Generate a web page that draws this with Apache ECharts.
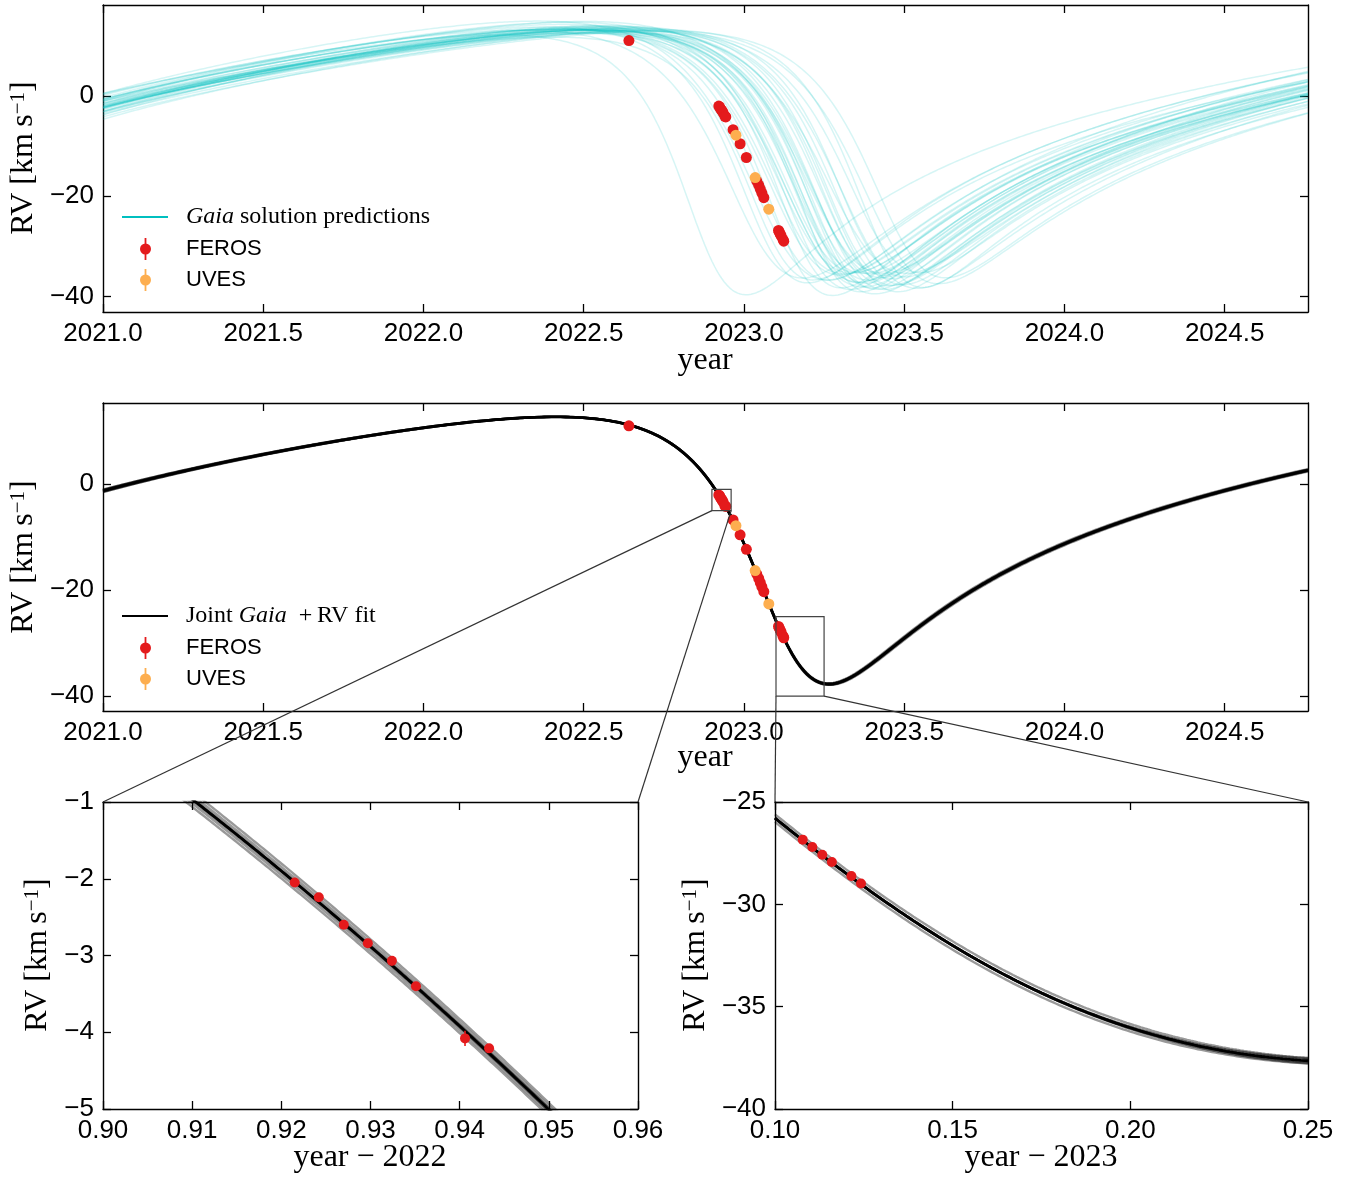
<!DOCTYPE html>
<html>
<head>
<meta charset="utf-8">
<script src="https://cdn.jsdelivr.net/npm/echarts@6/dist/echarts.min.js"></script>
<style>
  html, body { margin: 0; padding: 0; background: #fff; }
  #chart { width: 1355px; height: 1177px; }
</style>
</head>
<body>
<div id="chart"></div>
<script>
// ---- radial-velocity measurements ----
const ferosT  = [2022.641, 2022.9215, 2022.9242, 2022.9270, 2022.9297, 2022.9324, 2022.9351, 2022.9406, 2022.9433,
                 2022.966, 2022.988, 2023.0075, 2023.040, 2023.046, 2023.051, 2023.056, 2023.062,
                 2023.1078, 2023.1105, 2023.1133, 2023.1160, 2023.1215, 2023.1242];
const ferosRV = [11.0, -2.05, -2.24, -2.60, -2.84, -3.07, -3.40, -4.08, -4.21,
                 -6.75, -9.56, -12.3, -17.0, -17.8, -18.6, -19.4, -20.3,
                 -26.84, -27.20, -27.58, -27.93, -28.62, -28.98];
const ferosErr = [0.08, 0.05, 0.05, 0.05, 0.05, 0.06, 0.05, 0.10, 0.05,
                  0.06, 0.06, 0.06, 0.06, 0.06, 0.06, 0.06, 0.06,
                  0.05, 0.05, 0.05, 0.05, 0.05, 0.05];
const uvesT   = [2022.975, 2023.035, 2023.0775];
const uvesRV  = [-7.85, -16.3, -22.6];
const uvesErr = [0.10, 0.10, 0.10];

// ---- best joint orbit: period [yr], eccentricity, omega [rad], periastron [yr], K and systemic velocity [km/s] ----
const fitP = 3.49654, fitE = 0.51798, fitW = 2.29062, fitTp = 2023.12509, fitK = 25.20326, fitG = -3.91391;

// ---- Gaia solution draws: periastron shift, amplitude, systemic velocity and eccentricity offsets ----
const gaiaShift = [-0.24, -0.09, -0.06, -0.04, -0.02, 0.00, 0.02, 0.03, 0.05, 0.06, 0.07, 0.08, 0.09, 0.10, 0.10, 0.11, 0.12, 0.13, 0.13, 0.14,
                   0.15, 0.15, 0.16, 0.17, 0.18, 0.19, 0.20, 0.21, 0.22, 0.23, 0.24, 0.26, 0.28, 0.30, 0.33, 0.36, 0.08, 0.12, 0.17, 0.04];
const gaiaDK = [0.7, -0.5, 0.3, -1.0, 0.6, -0.2, 1.0, -0.7, 0.2, -0.4, 0.9, -1.1, 0.5, 0.0, -0.6, 0.7, -0.3, 1.2, -0.9, 0.4,
                -0.1, 0.8, -0.5, 0.3, -1.0, 0.6, -0.2, 1.0, -0.7, 0.2, -0.4, 0.9, -1.1, 0.5, 0.0, -0.6, 0.7, -0.3, 1.1, -0.8];
const gaiaDG = [-0.5, 0.4, 1.0, 0.0, 1.3, 0.7, -0.4, 0.9, 0.2, 1.5, 0.5, 1.1, -0.2, 0.8, 1.4, 0.1, 0.6, -0.5, 1.2, 0.3,
                1.7, 0.4, 0.8, -0.1, 1.1, 0.6, 1.3, 0.0, 0.9, 0.5, 1.4, 0.2, 1.0, 0.7, 0.1, 0.8, 1.2, 0.3, 0.6, 1.0];
const gaiaDE = [0.03, -0.02, 0.01, 0.02, -0.03, 0.0, 0.02, -0.01, 0.03, -0.02, 0.01, 0.0, -0.03, 0.02, -0.01, 0.03, 0.0, -0.02, 0.01, 0.02,
                -0.03, 0.01, 0.0, -0.02, 0.03, -0.01, 0.02, 0.0, -0.03, 0.01, 0.02, -0.02, 0.0, 0.03, -0.01, 0.01, -0.02, 0.02, 0.0, -0.01];

// ---- joint-fit posterior draws (offsets around the best orbit) ----
const drawDP  = [0.03, -0.03, 0.015, -0.015, 0.02, -0.02, 0.01, -0.01];
const drawDTp = [0.0012, -0.0012, 0.0006, -0.0006, 0.0008, -0.0008, 0.0004, -0.0004];
const drawDK  = [0.08, -0.08, 0.05, -0.05, -0.06, 0.06, 0.03, -0.03];
const drawDG  = [-0.05, 0.05, -0.03, 0.03, 0.04, -0.04, 0.0, 0.0];

// ---- axis ticks and zoom windows ----
const yearTicks = [2021.0, 2021.5, 2022.0, 2022.5, 2023.0, 2023.5, 2024.0, 2024.5];
const rvTicks = [-40, -20, 0];
const zoomAX = [0.90, 0.91, 0.92, 0.93, 0.94, 0.95, 0.96];
const zoomAY = [-5, -4, -3, -2, -1];
const zoomBX = [0.10, 0.15, 0.20, 0.25];
const zoomBY = [-40, -35, -30, -25];
const zoomA = { x0: 0.90, x1: 0.96, y0: -5, y1: -1, ref: 2022 };
const zoomB = { x0: 0.10, x1: 0.25, y0: -40, y1: -25, ref: 2023 };

// ---- Keplerian radial velocity ----
function keplerE(M, e) {
  let E = M + 0.85 * e * Math.sign(Math.sin(M) || 1);
  for (let i = 0; i < 50; i++) {
    const d = (E - e * Math.sin(E) - M) / (1 - e * Math.cos(E));
    E -= d;
    if (Math.abs(d) < 1e-12) break;
  }
  return E;
}
function rv(t, o) {
  let M = 2 * Math.PI * (t - o.Tp) / o.P;
  M = M - 2 * Math.PI * Math.round(M / (2 * Math.PI));
  const E = keplerE(M, o.e);
  const nu = 2 * Math.atan2(Math.sqrt(1 + o.e) * Math.sin(E / 2), Math.sqrt(1 - o.e) * Math.cos(E / 2));
  return o.g + o.K * (Math.cos(nu + o.w) + o.e * Math.cos(o.w));
}
const fitOrbit = { P: fitP, e: fitE, w: fitW, Tp: fitTp, K: fitK, g: fitG };

const RED = '#e41a1c', ORANGE = '#fdae4f', CYAN = '#00bfbf';
const SANS = 'Liberation Sans, Arial, sans-serif';
const SERIF = 'Liberation Serif, Times New Roman, serif';
const minus = (v, d) => (v < 0 ? '\u2212' : '') + Math.abs(v).toFixed(d);

function curve(o, t0, t1, n, ref) {
  const out = [];
  for (let i = 0; i <= n; i++) { const t = t0 + (t1 - t0) * i / n; out.push([t - ref, rv(t, o)]); }
  return out;
}
function axesFor(g, xr, yr, xt, yt, xd, yd) {
  const line = { show: true, onZero: false, lineStyle: { color: '#000', width: 1.4 } };
  const tick = (vals) => ({ show: true, inside: true, length: 8, customValues: vals, lineStyle: { color: '#000', width: 1.3 } });
  const lbl = (vals, d, show) => ({ show, customValues: vals, formatter: v => minus(v, d), fontFamily: SANS, fontSize: 26, color: '#000', margin: 9 });
  return {
    x: [
      { type: 'value', gridIndex: g, min: xr[0], max: xr[1], position: 'bottom', axisLine: line, axisTick: tick(xt), axisLabel: lbl(xt, xd, true), splitLine: { show: false } },
      { type: 'value', gridIndex: g, min: xr[0], max: xr[1], position: 'top', axisLine: line, axisTick: tick(xt), axisLabel: lbl(xt, xd, false), splitLine: { show: false } }
    ],
    y: [
      { type: 'value', gridIndex: g, min: yr[0], max: yr[1], position: 'left', axisLine: line, axisTick: tick(yt), axisLabel: lbl(yt, yd, true), splitLine: { show: false } },
      { type: 'value', gridIndex: g, min: yr[0], max: yr[1], position: 'right', axisLine: line, axisTick: tick(yt), axisLabel: lbl(yt, yd, false), splitLine: { show: false } }
    ]
  };
}
const axes = [
  axesFor(0, [2021.0, 2024.76], [-43.1, 18.1], yearTicks, rvTicks, 1, 0),
  axesFor(1, [2021.0, 2024.76], [-42.8, 15.3], yearTicks, rvTicks, 1, 0),
  axesFor(2, [zoomA.x0, zoomA.x1], [zoomA.y0, zoomA.y1], zoomAX, zoomAY, 2, 0),
  axesFor(3, [zoomB.x0, zoomB.x1], [zoomB.y0, zoomB.y1], zoomBX, zoomBY, 2, 0)
];

const series = [];
function errSeries(g, ts, vs, es, ref, color) {
  return {
    type: 'custom', xAxisIndex: 2 * g, yAxisIndex: 2 * g, z: 6, silent: true,
    data: ts.map((t, i) => [t - ref, vs[i], es[i]]),
    renderItem: (params, api) => {
      const a = api.coord([api.value(0), api.value(1) - api.value(2)]);
      const b = api.coord([api.value(0), api.value(1) + api.value(2)]);
      return { type: 'line', shape: { x1: a[0], y1: a[1], x2: b[0], y2: b[1] }, style: { stroke: color, lineWidth: 1.6 } };
    }
  };
}
function points(g, ref, size, range) {
  const keep = (t) => !range || (t - ref >= range[0] && t - ref <= range[1]);
  const fi = ferosT.map((t, i) => i).filter(i => keep(ferosT[i]));
  const ui = uvesT.map((t, i) => i).filter(i => keep(uvesT[i]));
  series.push(errSeries(g, fi.map(i => ferosT[i]), fi.map(i => ferosRV[i]), fi.map(i => ferosErr[i]), ref, RED));
  series.push({ type: 'scatter', xAxisIndex: 2 * g, yAxisIndex: 2 * g, z: 7, symbolSize: size, silent: true,
    itemStyle: { color: RED, opacity: 1 }, data: fi.map(i => [ferosT[i] - ref, ferosRV[i]]) });
  if (ui.length) {
    series.push(errSeries(g, ui.map(i => uvesT[i]), ui.map(i => uvesRV[i]), ui.map(i => uvesErr[i]), ref, ORANGE));
    series.push({ type: 'scatter', xAxisIndex: 2 * g, yAxisIndex: 2 * g, z: 8, symbolSize: size, silent: true,
      itemStyle: { color: ORANGE, opacity: 1 }, data: ui.map(i => [uvesT[i] - ref, uvesRV[i]]) });
  }
}
function lineSeries(g, data, color, width, opacity, z) {
  return { type: 'line', xAxisIndex: 2 * g, yAxisIndex: 2 * g, data, showSymbol: false, silent: true, z,
    lineStyle: { color, width, opacity }, animation: false, clip: true };
}

// top panel: Gaia-only orbit predictions
gaiaShift.forEach((d, i) => {
  const o = { P: fitP + 0.6 * d, Tp: fitTp + d, e: fitE + gaiaDE[i], w: fitW, K: fitK + gaiaDK[i], g: fitG + gaiaDG[i] };
  series.push(lineSeries(0, curve(o, 2021.0, 2024.76, 900, 0), CYAN, 1.5, 0.16, 2));
});
points(0, 0, 11);

// middle and zoom panels: joint fit with posterior draws
const panels = [
  { g: 1, t0: 2021.0, t1: 2024.76, n: 1500, ref: 0, size: 11, range: null },
  { g: 2, t0: 2022.90, t1: 2022.96, n: 200, ref: 2022, size: 10, range: [zoomA.x0, zoomA.x1] },
  { g: 3, t0: 2023.10, t1: 2023.25, n: 300, ref: 2023, size: 10, range: [zoomB.x0, zoomB.x1] }
];
panels.forEach(p => {
  drawDP.forEach((d, i) => {
    const o = { P: fitP + d, Tp: fitTp + drawDTp[i], e: fitE, w: fitW, K: fitK + drawDK[i], g: fitG + drawDG[i] };
    series.push(lineSeries(p.g, curve(o, p.t0, p.t1, p.n, p.ref), '#000', 2.4, 0.4, 3));
  });
  series.push(lineSeries(p.g, curve(fitOrbit, p.t0, p.t1, p.n, p.ref), '#000', 2.8, 1, 4));
  points(p.g, p.ref, p.size, p.range);
});

// ---- axis titles and legends ----
const rvTitle = (x, y) => ({
  type: 'text', x, y, rotation: Math.PI / 2, z: 50,
  style: { text: '{a|RV [km\u2009s}{b|\u22121}{a|]}', align: 'center', verticalAlign: 'middle', fill: '#000',
    rich: { a: { fontFamily: SERIF, fontSize: 32, lineHeight: 32 }, b: { fontFamily: SERIF, fontSize: 21, lineHeight: 21, verticalAlign: 'top' } } }
});
const xTitle = (x, y, text) => ({ type: 'text', x, y, z: 50, style: { text, align: 'center', verticalAlign: 'middle', fill: '#000', fontFamily: SERIF, fontSize: 32 } });
function legend(y0, lineColor, richText) {
  const els = [];
  els.push({ type: 'line', z: 50, shape: { x1: 122, y1: y0, x2: 168, y2: y0 }, style: { stroke: lineColor, lineWidth: 2.2 } });
  els.push({ type: 'text', x: 186, y: y0, z: 50, style: { text: richText, align: 'left', verticalAlign: 'middle', fill: '#000',
    rich: { r: { fontFamily: SERIF, fontSize: 24 }, i: { fontFamily: SERIF, fontSize: 24, fontStyle: 'italic' } } } });
  [[RED, 'FEROS', y0 + 32], [ORANGE, 'UVES', y0 + 63]].forEach(([c, t, y]) => {
    els.push({ type: 'line', z: 50, shape: { x1: 145.5, y1: y - 11, x2: 145.5, y2: y + 11 }, style: { stroke: c, lineWidth: 1.8 } });
    els.push({ type: 'circle', z: 51, shape: { cx: 145.5, cy: y, r: 5.5 }, style: { fill: c } });
    els.push({ type: 'text', x: 186, y, z: 50, style: { text: t, align: 'left', verticalAlign: 'middle', fill: '#000', fontFamily: SANS, fontSize: 22 } });
  });
  return els;
}
const staticGraphics = [
  rvTitle(24, 158), rvTitle(24, 557), rvTitle(38, 955), rvTitle(696, 955),
  xTitle(705, 361, 'year'), xTitle(705, 758, 'year'),
  xTitle(370, 1158, 'year \u2212 2022'), xTitle(1041, 1158, 'year \u2212 2023'),
  ...legend(217, CYAN, '{i|Gaia}{r| solution predictions}'),
  ...legend(616, '#000', '{r|Joint }{i|Gaia}{r|  +\u2009RV fit}')
];

const chart = echarts.init(document.getElementById('chart'), null, { renderer: 'canvas' });
chart.setOption({
  animation: false,
  backgroundColor: '#fff',
  grid: [
    { left: 103, top: 5, width: 1205, height: 307 },
    { left: 103, top: 403, width: 1205, height: 308 },
    { left: 103, top: 802, width: 535, height: 307 },
    { left: 775, top: 802, width: 533, height: 307 }
  ],
  xAxis: axes.flatMap(a => a.x),
  yAxis: axes.flatMap(a => a.y),
  series,
  graphic: staticGraphics
});

// zoom boxes in the middle panel and their connector lines
const px = (axisIdx, v) => chart.convertToPixel({ xAxisIndex: axisIdx, yAxisIndex: axisIdx }, v);
const ins = [];
[[zoomA, 2], [zoomB, 3]].forEach(([z, g]) => {
  const bl = px(2, [z.ref + z.x0, z.y0]), tr = px(2, [z.ref + z.x1, z.y1]);
  ins.push({ type: 'rect', z: 60, shape: { x: bl[0], y: tr[1], width: tr[0] - bl[0], height: bl[1] - tr[1] }, style: { fill: 'none', stroke: '#444', lineWidth: 1.2 } });
  const c1 = px(2 * g, [z.x0, z.y1]), c2 = px(2 * g, [z.x1, z.y1]);
  ins.push({ type: 'line', z: 60, shape: { x1: bl[0], y1: bl[1], x2: c1[0], y2: c1[1] }, style: { stroke: '#333', lineWidth: 1.2 } });
  ins.push({ type: 'line', z: 60, shape: { x1: tr[0], y1: bl[1], x2: c2[0], y2: c2[1] }, style: { stroke: '#333', lineWidth: 1.2 } });
});
chart.setOption({ graphic: staticGraphics.concat(ins) });
</script>
</body>
</html>
